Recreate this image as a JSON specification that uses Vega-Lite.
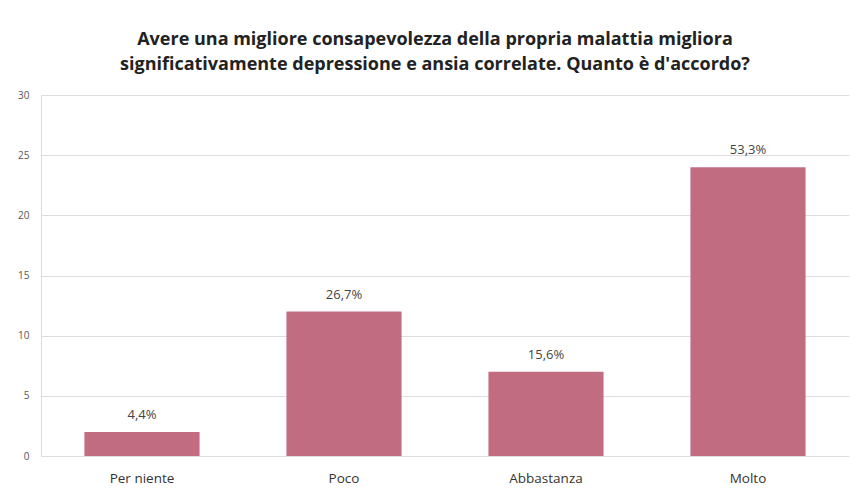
{
  "$schema": "https://vega.github.io/schema/vega-lite/v6.json",
  "width": 808,
  "height": 361,
  "autosize": {"type": "none"},
  "padding": {"left": 41, "top": 95, "right": 1, "bottom": 34},
  "background": "white",
  "title": {
    "text": ["Avere una migliore consapevolezza della propria malattia migliora", "significativamente depressione e ansia correlate. Quanto è d'accordo?"],
    "font": "Open Sans",
    "fontSize": 18,
    "fontWeight": "bold",
    "color": "#222222",
    "lineHeight": 25,
    "offset": 16,
    "anchor": "middle",
    "dx": -10
  },
  "data": {
    "values": [
      {"cat": "Per niente", "n": 2, "label": "4,4%"},
      {"cat": "Poco", "n": 12, "label": "26,7%"},
      {"cat": "Abbastanza", "n": 7, "label": "15,6%"},
      {"cat": "Molto", "n": 24, "label": "53,3%"}
    ]
  },
  "config": {
    "view": {"stroke": null},
    "font": "Open Sans"
  },
  "encoding": {
    "x": {
      "field": "cat", "type": "nominal", "sort": null,
      "scale": {"paddingInner": 0.43, "paddingOuter": 0.215},
      "axis": {"title": null, "labelAngle": 0, "labelFontSize": 13.5, "labelColor": "#333333", "labelPadding": 15, "ticks": false, "domain": false}
    },
    "y": {
      "field": "n", "type": "quantitative",
      "scale": {"domain": [0, 30]},
      "axis": {"title": null, "values": [0, 5, 10, 15, 20, 25, 30], "labelFontSize": 10, "labelColor": "#555555", "labelPadding": 12, "ticks": false, "domain": true, "domainColor": "#dddddd", "gridColor": "#dddddd", "gridWidth": 1.2}
    }
  },
  "layer": [
    {"mark": {"type": "bar", "color": "#c16c80"}},
    {"mark": {"type": "text", "dy": -17, "fontSize": 13, "color": "#444444"}, "encoding": {"text": {"field": "label"}}}
  ]
}
